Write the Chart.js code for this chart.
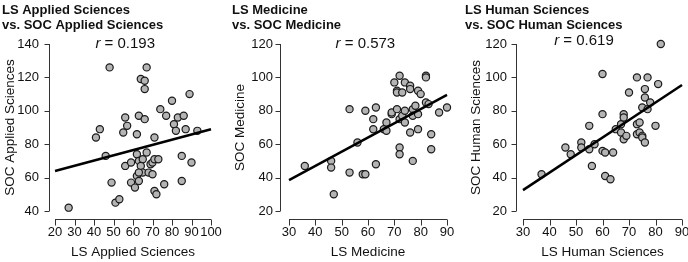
<!DOCTYPE html>
<html>
<head>
<meta charset="utf-8">
<script src="https://cdn.jsdelivr.net/npm/chart.js@4.4.1/dist/chart.umd.min.js"></script>
<style>
  body { margin: 0; background: #fff; }
  .row { display: flex; width: 688px; height: 262px; }
  canvas { display: block; }
</style>
</head>
<body>
<div class="row">
  <canvas id="chartApplied" width="229" height="262"></canvas>
  <canvas id="chartMedicine" width="229" height="262"></canvas>
  <canvas id="chartHuman" width="230" height="262"></canvas>
</div>
<script>
// LS vs SOC, Applied Sciences
const lsApplied  = [27, 48, 67, 64, 66, 66, 43, 41, 46, 55, 56, 57, 63, 66, 62, 56, 59, 49, 51, 53, 59, 61, 62, 63, 62, 63, 65, 64, 65, 63, 67, 71, 68, 70, 69, 70, 71, 73, 71, 72, 74, 77, 76, 80, 81, 82, 83, 86, 87, 85, 85, 89, 90, 93];
const socApplied = [42, 126, 126, 119, 118, 113, 89, 84, 73, 87, 96, 91, 97, 95, 86, 67, 69, 57, 45, 47, 57, 54, 61, 58, 74, 70, 71, 67, 63, 63, 75, 84, 63, 62, 68, 69, 71, 71, 52, 50, 101, 97, 56, 106, 92, 88, 96, 97, 89, 73, 58, 110, 69, 88];
const fitAppliedX = [20, 100];
const fitAppliedY = [64, 89];

// Medicine
const lsMedicine  = [36, 46, 46, 47, 53, 53, 56, 58, 59, 59, 63, 62, 62, 63, 66, 67, 67, 69, 69, 70, 71, 71, 71, 72, 72, 72, 72, 73, 73, 74, 74, 74, 76, 76, 76, 77, 77, 77, 78, 79, 79, 79, 80, 82, 82, 82, 83, 84, 84, 87, 90];
const socMedicine = [47, 50, 46, 30, 43, 81, 61, 42, 42, 80, 82, 75, 69, 48, 69, 73, 68, 78, 79, 97, 92, 91, 81, 101, 75, 58, 54, 91, 77, 97, 80, 73, 95, 93, 67, 81, 77, 50, 83, 92, 78, 69, 90, 101, 100, 85, 84, 66, 57, 79, 82];
const fitMedicineX = [30, 90];
const fitMedicineY = [38.5, 89.5];

// Human Sciences
const lsHuman  = [37, 46, 48, 52, 52, 55, 55, 56, 57, 60, 60, 60, 61, 61, 63, 64, 65, 67, 67, 68, 68, 68, 69, 70, 73, 73, 73, 74, 74, 75, 75, 75, 76, 76, 76, 77, 77, 78, 80, 81, 82];
const socHuman = [42, 58, 54, 61, 58, 71, 57, 47, 60, 102, 78, 56, 55, 41, 39, 55, 69, 72, 67, 78, 76, 63, 65, 91, 100, 72, 66, 73, 67, 82, 65, 64, 93, 88, 61, 100, 81, 85, 71, 96, 120];
const fitHumanX = [30, 90];
const fitHumanY = [32.5, 95.5];

const rValues = ['0.193', '0.573', '0.619'];

const FONT = '"Liberation Sans", Arial, Helvetica, sans-serif';
Chart.defaults.font.family = FONT;
Chart.defaults.color = '#111';

function toPoints(xs, ys) {
  return xs.map((x, i) => ({ x: x, y: ys[i] }));
}

// detached axes (line only from min to max, a gap before the plot) + the r label
const axisLines = {
  id: 'axisLines',
  afterDraw(chart, args, opts) {
    const ctx = chart.ctx;
    const a = chart.chartArea;
    const xs = chart.scales.x, ys = chart.scales.y;
    ctx.save();
    ctx.strokeStyle = '#333';
    ctx.lineWidth = 1;
    const ax = Math.round(a.left - opts.gapY) + 0.5;
    const ay = Math.round(a.bottom + opts.gapX) + 0.5;
    ctx.beginPath();
    ctx.moveTo(ax, ys.getPixelForValue(ys.min));
    ctx.lineTo(ax, ys.getPixelForValue(ys.max));
    ys.ticks.forEach(t => {
      const p = Math.round(ys.getPixelForValue(t.value)) + 0.5;
      ctx.moveTo(ax - 5, p);
      ctx.lineTo(ax, p);
    });
    ctx.moveTo(xs.getPixelForValue(xs.min), ay);
    ctx.lineTo(xs.getPixelForValue(xs.max), ay);
    xs.ticks.forEach(t => {
      const p = Math.round(xs.getPixelForValue(t.value)) + 0.5;
      ctx.moveTo(p, ay);
      ctx.lineTo(p, ay + 6);
    });
    ctx.stroke();

    // r = ...
    const rest = ' = ' + opts.r;
    ctx.fillStyle = '#111';
    ctx.textBaseline = 'middle';
    ctx.textAlign = 'left';
    ctx.font = 'italic 15px ' + FONT;
    const w1 = ctx.measureText('r').width;
    ctx.font = '15px ' + FONT;
    const w2 = ctx.measureText(rest).width;
    const cx = xs.getPixelForValue(opts.rAt[0]);
    const cy = ys.getPixelForValue(opts.rAt[1]);
    const x0 = cx - (w1 + w2) / 2;
    ctx.font = 'italic 15px ' + FONT;
    ctx.fillText('r', x0, cy);
    ctx.font = '15px ' + FONT;
    ctx.fillText(rest, x0 + w1, cy);
    ctx.restore();
  }
};

function makeChart(id, p) {
  return new Chart(document.getElementById(id), {
    type: 'scatter',
    data: {
      datasets: [{
        type: 'line',
        data: toPoints(p.fitX, p.fitY),
        borderColor: '#000',
        borderWidth: 2.5,
        pointRadius: 0,
        clip: false
      }, {
        data: toPoints(p.xData, p.yData),
        backgroundColor: '#b4b4b4',
        borderColor: '#1a1a1a',
        borderWidth: 1.2,
        pointRadius: 3.6,
        clip: false
      }]
    },
    options: {
      responsive: false,
      animation: false,
      devicePixelRatio: 1,
      layout: { padding: { left: p.padL, right: p.padR, top: 0, bottom: 0 } },
      plugins: {
        legend: { display: false },
        tooltip: { enabled: false },
        title: {
          display: true,
          text: p.title,
          align: 'start',
          color: '#111',
          font: { size: 13, weight: 'bold', lineHeight: 1.154 },
          padding: { top: 3, bottom: 11 }
        },
        axisLines: { gapY: p.gapY, gapX: 8, r: p.r, rAt: p.rAt }
      },
      scales: {
        x: {
          type: 'linear',
          min: p.xMin, max: p.xMax,
          grid: { display: false, drawTicks: false },
          border: { display: false },
          ticks: { stepSize: 10, padding: 14, autoSkip: false, maxRotation: 0, font: { size: 13 }, color: '#111' },
          title: { display: true, text: p.xTitle, color: '#111', font: { size: 13.5 }, padding: { top: 0, bottom: 2 } },
          afterFit(s) { s.height = 51; s.paddingLeft = 0; s.paddingRight = 0; }
        },
        y: {
          type: 'linear',
          min: p.yMin, max: p.yMax,
          grid: { display: false, drawTicks: false },
          border: { display: false },
          ticks: { stepSize: 20, padding: 16, font: { size: 13 }, color: '#111' },
          title: { display: true, text: p.yTitle, color: '#111', font: { size: 13.5 }, padding: { top: p.yTitlePad, bottom: 0 } },
          afterFit(s) { s.width = p.left - p.padL; }
        }
      }
    },
    plugins: [axisLines]
  });
}

makeChart('chartApplied', {
  title: ['LS Applied Sciences', 'vs. SOC Applied Sciences'],
  xTitle: 'LS Applied Sciences', yTitle: 'SOC Applied Sciences',
  xData: lsApplied, yData: socApplied, fitX: fitAppliedX, fitY: fitAppliedY,
  xMin: 20, xMax: 100, yMin: 40, yMax: 140,
  left: 55, padL: 2, padR: 18, gapY: 6, yTitlePad: 0,
  r: rValues[0], rAt: [56, 140]
});

makeChart('chartMedicine', {
  title: ['LS Medicine', 'vs. SOC Medicine'],
  xTitle: 'LS Medicine', yTitle: 'SOC Medicine',
  xData: lsMedicine, yData: socMedicine, fitX: fitMedicineX, fitY: fitMedicineY,
  xMin: 30, xMax: 90, yMin: 20, yMax: 120,
  left: 60, padL: 3, padR: 11, gapY: 9, yTitlePad: 0,
  r: rValues[1], rAt: [59, 120]
});

makeChart('chartHuman', {
  title: ['LS Human Sciences', 'vs. SOC Human Sciences'],
  xTitle: 'LS Human Sciences', yTitle: 'SOC Human Sciences',
  xData: lsHuman, yData: socHuman, fitX: fitHumanX, fitY: fitHumanY,
  xMin: 30, xMax: 90, yMin: 20, yMax: 120,
  left: 65, padL: 7, padR: 6, gapY: 7, yTitlePad: 3,
  r: rValues[2], rAt: [53, 121.8]
});
</script>
</body>
</html>
